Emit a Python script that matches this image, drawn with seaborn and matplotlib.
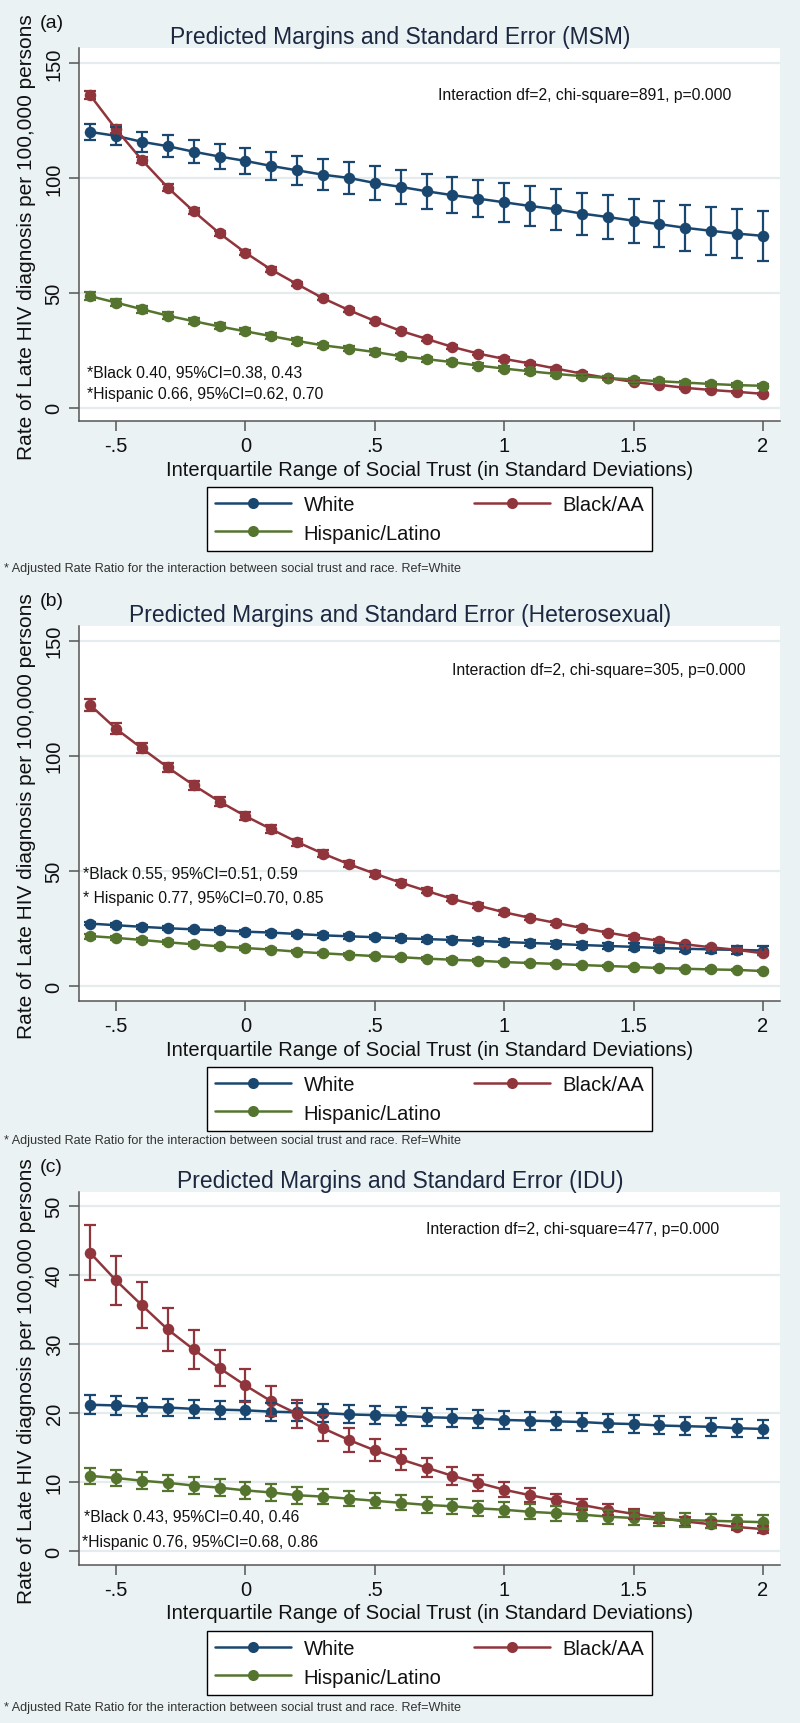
import numpy as np
import pandas as pd
import matplotlib
matplotlib.use("Agg")
import matplotlib.pyplot as plt
from matplotlib.lines import Line2D
import seaborn as sns

# ---------------- data ----------------
trust = [-0.6, -0.5, -0.4, -0.3, -0.2, -0.1, 0.0, 0.1, 0.2, 0.3, 0.4, 0.5, 0.6, 0.7,
         0.8, 0.9, 1.0, 1.1, 1.2, 1.3, 1.4, 1.5, 1.6, 1.7, 1.8, 1.9, 2.0]
races = ["White", "Black/AA", "Hispanic/Latino"]
x_ticks = [-0.5, 0, 0.5, 1, 1.5, 2]
x_tick_labels = ["-.5", "0", ".5", "1", "1.5", "2"]

# MSM
white_msm = [120.0, 118.3, 115.7, 113.8, 111.4, 109.3, 107.4, 105.2, 103.3, 101.4, 100.0, 97.8, 96.1, 94.2,
             92.5, 91.0, 89.4, 87.8, 86.4, 84.5, 83.0, 81.4, 79.9, 78.3, 77.0, 75.8, 74.8]
white_msm_err = [3.6, 4.0, 4.4, 4.8, 5.1, 5.5, 5.8, 6.1, 6.4, 6.7, 7.0, 7.2, 7.4, 7.7,
                 7.9, 8.1, 8.4, 8.6, 8.9, 9.1, 9.4, 9.6, 9.9, 10.1, 10.4, 10.6, 10.9]
black_msm = [136.0, 121.2, 107.8, 95.8, 85.5, 75.9, 67.5, 60.1, 53.8, 47.7, 42.5, 37.8, 33.5, 30.0,
             26.5, 23.6, 21.3, 19.3, 17.1, 14.9, 13.0, 11.3, 10.0, 8.7, 7.8, 7.0, 6.1]
black_msm_err = [1.8, 1.6, 1.5, 1.4, 1.3, 1.2, 1.1, 1.0, 1.0, 0.9, 0.9, 0.8, 0.8, 0.8,
                 0.7, 0.7, 0.7, 0.6, 0.6, 0.6, 0.6, 0.5, 0.5, 0.5, 0.5, 0.5, 0.5]
hisp_msm = [48.6, 45.8, 42.9, 40.1, 37.7, 35.4, 33.3, 31.2, 29.1, 27.2, 25.8, 24.3, 22.5, 21.2,
            19.9, 18.4, 17.1, 15.9, 14.8, 13.8, 13.0, 12.3, 11.6, 11.0, 10.4, 9.9, 9.6]
hisp_msm_err = [1.6, 1.5, 1.5, 1.4, 1.4, 1.3, 1.3, 1.3, 1.2, 1.2, 1.2, 1.1, 1.1, 1.1,
                1.0, 1.0, 1.0, 1.0, 0.9, 0.9, 0.9, 0.9, 0.9, 0.9, 0.8, 0.8, 0.8]

# Heterosexual
white_het = [27.1, 26.4, 25.7, 25.1, 24.6, 24.2, 23.6, 23.2, 22.6, 22.0, 21.6, 21.2, 20.7, 20.4,
             20.0, 19.6, 19.1, 18.7, 18.3, 17.8, 17.4, 17.0, 16.5, 16.2, 15.9, 15.7, 15.4]
white_het_err = [0.8, 0.8, 0.8, 0.8, 0.8, 0.9, 0.9, 0.9, 0.9, 1.0, 1.0, 1.0, 1.1, 1.1,
                 1.1, 1.2, 1.2, 1.3, 1.3, 1.4, 1.4, 1.5, 1.5, 1.6, 1.6, 1.7, 1.8]
black_het = [122.0, 111.7, 103.2, 94.9, 87.2, 80.1, 73.8, 68.1, 62.5, 57.5, 52.9, 48.8, 44.9, 41.3,
             37.8, 34.9, 32.0, 29.6, 27.4, 25.2, 23.2, 21.3, 19.6, 18.1, 16.8, 15.7, 14.2]
black_het_err = [2.6, 2.3, 2.1, 2.0, 1.9, 1.8, 1.7, 1.6, 1.5, 1.4, 1.3, 1.3, 1.2, 1.1,
                 1.1, 1.0, 1.0, 0.9, 0.9, 0.9, 0.8, 0.8, 0.8, 0.7, 0.7, 0.7, 0.7]
hisp_het = [21.7, 20.9, 20.0, 19.0, 18.1, 17.2, 16.5, 15.8, 14.9, 14.2, 13.6, 13.0, 12.5, 11.9,
            11.4, 11.0, 10.4, 10.0, 9.6, 9.1, 8.7, 8.3, 7.8, 7.5, 7.2, 7.0, 6.5]
hisp_het_err = [1.1, 1.0, 1.0, 0.9, 0.9, 0.8, 0.8, 0.8, 0.7, 0.7, 0.7, 0.6, 0.6, 0.6,
                0.6, 0.6, 0.5, 0.5, 0.5, 0.5, 0.5, 0.5, 0.5, 0.5, 0.5, 0.5, 0.5]

# IDU
white_idu = [21.2, 21.1, 20.9, 20.8, 20.6, 20.5, 20.4, 20.2, 20.1, 20.0, 19.8, 19.7, 19.6, 19.4,
             19.3, 19.2, 19.0, 18.9, 18.8, 18.7, 18.5, 18.4, 18.2, 18.1, 18.0, 17.8, 17.7]
white_idu_err = [1.4, 1.4, 1.3, 1.3, 1.3, 1.3, 1.3, 1.3, 1.3, 1.3, 1.3, 1.3, 1.3, 1.3,
                 1.3, 1.3, 1.3, 1.3, 1.3, 1.3, 1.3, 1.3, 1.3, 1.3, 1.3, 1.3, 1.3]
black_idu = [43.2, 39.2, 35.6, 32.1, 29.2, 26.5, 24.0, 21.7, 19.9, 17.8, 16.1, 14.6, 13.3, 12.1,
             10.9, 9.9, 8.9, 8.1, 7.4, 6.7, 6.0, 5.4, 4.8, 4.3, 3.9, 3.5, 3.2]
black_idu_err = [4.0, 3.6, 3.3, 3.1, 2.8, 2.6, 2.4, 2.2, 2.0, 1.9, 1.8, 1.6, 1.5, 1.4,
                 1.3, 1.2, 1.1, 1.0, 0.9, 0.8, 0.8, 0.7, 0.7, 0.6, 0.6, 0.5, 0.5]
hisp_idu = [10.9, 10.6, 10.2, 9.9, 9.5, 9.2, 8.8, 8.5, 8.1, 7.9, 7.6, 7.3, 7.0, 6.7,
            6.5, 6.2, 6.0, 5.7, 5.5, 5.3, 5.0, 4.8, 4.6, 4.5, 4.4, 4.3, 4.2]
hisp_idu_err = [1.2, 1.2, 1.2, 1.2, 1.2, 1.2, 1.2, 1.2, 1.2, 1.1, 1.1, 1.1, 1.1, 1.1,
                1.1, 1.1, 1.1, 1.1, 1.1, 1.0, 1.0, 1.0, 1.0, 1.0, 1.0, 1.0, 1.0]

panel_letters = ["(a)", "(b)", "(c)"]
titles = ["Predicted Margins and Standard Error (MSM)",
          "Predicted Margins and Standard Error (Heterosexual)",
          "Predicted Margins and Standard Error (IDU)"]
interaction_texts = ["Interaction df=2, chi-square=891, p=0.000",
                     "Interaction df=2, chi-square=305, p=0.000",
                     "Interaction df=2, chi-square=477, p=0.000"]
black_rr_texts = ["*Black 0.40, 95%CI=0.38, 0.43",
                  "*Black 0.55, 95%CI=0.51, 0.59",
                  "*Black 0.43, 95%CI=0.40, 0.46"]
hisp_rr_texts = ["*Hispanic 0.66, 95%CI=0.62, 0.70",
                 "* Hispanic 0.77, 95%CI=0.70, 0.85",
                 "*Hispanic 0.76, 95%CI=0.68, 0.86"]
y_ticks = [[0, 50, 100, 150], [0, 50, 100, 150], [0, 10, 20, 30, 40, 50]]
x_label = "Interquartile Range of Social Trust (in Standard Deviations)"
y_label = "Rate of Late HIV diagnosis per 100,000 persons"
footnote = "* Adjusted Rate Ratio for the interaction between social trust and race. Ref=White"

series = [
    ((white_msm, white_msm_err), (black_msm, black_msm_err), (hisp_msm, hisp_msm_err)),
    ((white_het, white_het_err), (black_het, black_het_err), (hisp_het, hisp_het_err)),
    ((white_idu, white_idu_err), (black_idu, black_idu_err), (hisp_idu, hisp_idu_err)),
]

# ---------------- style ----------------
sns.set_theme(style="white")
plt.rcParams["font.family"] = ["Liberation Sans", "DejaVu Sans"]

BG = "#EAF2F3"
colors = {"White": "#1A476F", "Black/AA": "#90353B", "Hispanic/Latino": "#55752F"}
TXT = "#111111"
TITLE_C = "#1c2740"

W, H = 800, 1724
fig = plt.figure(figsize=(W / 100, H / 100), dpi=100, facecolor=BG)

def fx(px):
    return px / W

def fy(py):
    return 1 - py / H

# layout (pixels): plot top, plot bottom, ylim, footnote y
layout = [
    dict(top=49, bottom=422, ylim=(-5.7, 156.5), foot=569),
    dict(top=627, bottom=1002, ylim=(-6.5, 156.3), foot=1141),
    dict(top=1193, bottom=1566, ylim=(-2.0, 52.0), foot=1708),
]
ann_pos = [
    dict(inter=(0.512, 0.874), black=(0.011, 0.131), hisp=(0.011, 0.075)),
    dict(inter=(0.532, 0.885), black=(0.006, 0.339), hisp=(0.006, 0.277)),
    dict(inter=(0.495, 0.901), black=(0.007, 0.131), hisp=(0.004, 0.064)),
]
PL, PR = 79, 780

for i in range(3):
    L = layout[i]
    top, bottom = L["top"], L["bottom"]
    ph = bottom - top
    ax = fig.add_axes([fx(PL), fy(bottom), fx(PR) - fx(PL), ph / H])
    ax.set_facecolor("white")

    rows = []
    for race, (vals, errs) in zip(races, series[i]):
        for xv, v, e in zip(trust, vals, errs):
            rows.append(dict(trust=xv, rate=v, err=e, race=race))
    df = pd.DataFrame(rows)

    sns.lineplot(data=df, x="trust", y="rate", hue="race", hue_order=races,
                 palette=colors, marker="o", markersize=8.3, markeredgewidth=0,
                 linewidth=1.8, legend=False, errorbar=None, ax=ax)
    for race in races:
        sub = df[df.race == race]
        ax.errorbar(sub.trust, sub.rate, yerr=sub.err, fmt="none",
                    ecolor=colors[race], elinewidth=1.6, capsize=4, capthick=1.6)

    ax.set_xlim(-0.643, 2.066)
    ax.set_ylim(*L["ylim"])
    ax.set_xticks(x_ticks)
    ax.set_xticklabels(x_tick_labels)
    ax.set_yticks(y_ticks[i])
    ax.set_yticklabels([str(t) for t in y_ticks[i]], rotation=90, va="center")
    ax.set_xlabel("")
    ax.set_ylabel("")
    ax.tick_params(axis="both", direction="out", length=7, width=1.1, color="#555555",
                   labelsize=14.5, labelcolor=TXT, bottom=True, left=True)
    ax.tick_params(axis="y", pad=4)
    ax.tick_params(axis="x", pad=4)
    ax.yaxis.grid(True, color="#E4ECEE", linewidth=1.6)
    ax.xaxis.grid(False)
    ax.set_axisbelow(True)
    for s in ["top", "right"]:
        ax.spines[s].set_visible(False)
    for s in ["left", "bottom"]:
        ax.spines[s].set_color("#555555")
        ax.spines[s].set_linewidth(1.1)

    A = ann_pos[i]
    ax.text(*A["inter"], interaction_texts[i], transform=ax.transAxes, ha="left",
            va="center", fontsize=11.3, color=TXT)
    ax.text(*A["black"], black_rr_texts[i], transform=ax.transAxes, ha="left",
            va="center", fontsize=11.3, color=TXT)
    ax.text(*A["hisp"], hisp_rr_texts[i], transform=ax.transAxes, ha="left",
            va="center", fontsize=11.3, color=TXT)

    # legend: White, Black/AA on first row; Hispanic/Latino on second
    handles = {r: Line2D([], [], color=colors[r], marker="o", markersize=8,
                         markeredgewidth=0, linewidth=1.8) for r in races}
    order = ["White", "Hispanic/Latino", "Black/AA"]
    leg = ax.legend([handles[r] for r in order], order, loc="upper center",
                    bbox_to_anchor=(0.5, -66 / ph), ncol=2, frameon=True,
                    fancybox=False, edgecolor="black", facecolor="white",
                    framealpha=1, fontsize=14.5, handlelength=3.8,
                    handletextpad=0.6, columnspacing=1.6, borderpad=0.42,
                    labelspacing=0.45, borderaxespad=0)
    leg.get_frame().set_linewidth(1.0)
    for t in leg.get_texts():
        t.set_color(TXT)

    cx = (PL + PR) / 2
    fig.text(0.5, fy(top - 5), titles[i], ha="center", va="baseline",
             fontsize=16.5, color=TITLE_C)
    fig.text(fx(40), fy(top - 25), panel_letters[i], ha="left", va="center",
             fontsize=14, color=TXT)
    fig.text(fx(27), fy((top + bottom) / 2 + 2), y_label, rotation=90, ha="center",
             va="center", fontsize=15, color=TXT)
    fig.text(fx(cx), fy(bottom + 48), x_label, ha="center", va="center",
             fontsize=14.5, color=TXT)
    fig.text(fx(4), fy(L["foot"]), footnote, ha="left", va="center",
             fontsize=9.1, color="#333333")

fig.savefig("out.png", dpi=100, facecolor=BG)
